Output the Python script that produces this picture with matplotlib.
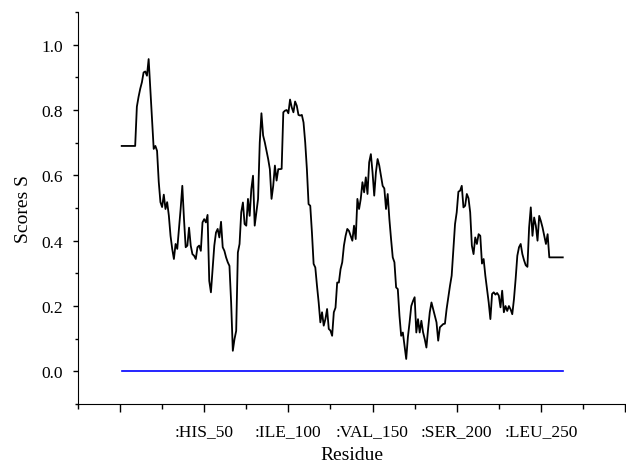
import matplotlib
matplotlib.use("Agg")
import matplotlib.pyplot as plt
import numpy as np
from matplotlib.ticker import MultipleLocator

# per-residue scores, residues 1..263
scores = [
    0.69, 0.69, 0.69, 0.69, 0.69, 0.69, 0.69, 0.69, 0.69, 0.81,
    0.84, 0.865, 0.885, 0.915, 0.918, 0.905, 0.956, 0.864, 0.772, 0.681,
    0.69, 0.675, 0.58, 0.518, 0.503, 0.541, 0.497, 0.518, 0.477, 0.415,
    0.375, 0.344, 0.39, 0.375, 0.436, 0.497, 0.568, 0.466, 0.38, 0.385,
    0.44, 0.385, 0.359, 0.354, 0.344, 0.38, 0.385, 0.369, 0.456, 0.466,
    0.456, 0.479, 0.277, 0.242, 0.313, 0.385, 0.425, 0.436, 0.41, 0.458,
    0.38, 0.369, 0.349, 0.334, 0.323, 0.211, 0.063, 0.099, 0.124, 0.364,
    0.39, 0.487, 0.517, 0.451, 0.446, 0.528, 0.476, 0.558, 0.599, 0.446,
    0.487, 0.528, 0.70, 0.79, 0.722, 0.701, 0.675, 0.65, 0.619, 0.528,
    0.568, 0.63, 0.584, 0.619, 0.619, 0.62, 0.793, 0.798, 0.80, 0.79,
    0.832, 0.808, 0.793, 0.826, 0.813, 0.785, 0.783, 0.785, 0.762, 0.701,
    0.619, 0.512, 0.507, 0.425, 0.329, 0.318, 0.262, 0.211, 0.150, 0.181,
    0.140, 0.16, 0.191, 0.13, 0.125, 0.109, 0.181, 0.195, 0.272, 0.272,
    0.313, 0.334, 0.385, 0.415, 0.436, 0.43, 0.415, 0.40, 0.446, 0.405,
    0.528, 0.497, 0.528, 0.579, 0.548, 0.594, 0.543, 0.64, 0.665, 0.609,
    0.538, 0.609, 0.65, 0.63, 0.599, 0.568, 0.56, 0.497, 0.543, 0.466,
    0.405, 0.349, 0.334, 0.257, 0.252, 0.17, 0.109, 0.119, 0.078, 0.038,
    0.105, 0.15, 0.2, 0.215, 0.227, 0.119, 0.16, 0.119, 0.155, 0.12,
    0.099, 0.073, 0.13, 0.181, 0.211, 0.191, 0.17, 0.15, 0.094, 0.135,
    0.14, 0.145, 0.146, 0.191, 0.227, 0.262, 0.293, 0.374, 0.451, 0.487,
    0.55, 0.553, 0.568, 0.502, 0.507, 0.543, 0.53, 0.487, 0.385, 0.359,
    0.41, 0.39, 0.42, 0.415, 0.33, 0.344, 0.293, 0.252, 0.211, 0.16,
    0.237, 0.242, 0.235, 0.24, 0.232, 0.196, 0.247, 0.181, 0.2, 0.185,
    0.2, 0.19, 0.175, 0.221, 0.283, 0.354, 0.38, 0.39, 0.359, 0.34,
    0.325, 0.32, 0.44, 0.502, 0.415, 0.471, 0.446, 0.40, 0.476, 0.46,
    0.44, 0.415, 0.39, 0.42, 0.349, 0.349, 0.349, 0.349, 0.349, 0.349,
    0.349, 0.349, 0.349,
]
residues = np.arange(1, len(scores) + 1)

tick_pos = [0, 50, 100, 150, 200, 250, 300]
tick_labels = ["", ":HIS_50", ":ILE_100", ":VAL_150", ":SER_200", ":LEU_250", ""]
ytick_pos = [0, 0.2, 0.4, 0.6, 0.8, 1.0]

plt.rcParams["font.family"] = ["Liberation Serif", "DejaVu Serif"]

fig = plt.figure(figsize=(6.26, 4.64), dpi=100)
ax = fig.add_axes([0.1245, 0.127, 0.874, 0.845])

ax.plot(residues, scores, color="black", lw=1.3)
ax.plot([residues[0], residues[-1]], [0, 0], color="#0000ff", lw=1.2)

ax.set_xlim(-25, 300)
ax.set_ylim(-0.1, 1.1)
ax.set_xticks(tick_pos)
ax.set_xticklabels(tick_labels)
ax.xaxis.set_minor_locator(MultipleLocator(25))
ax.set_yticks(ytick_pos)
ax.set_yticklabels([f"{v:.1f}" for v in ytick_pos])
ax.yaxis.set_minor_locator(MultipleLocator(0.1))

ax.spines["top"].set_visible(False)
ax.spines["right"].set_visible(False)
ax.tick_params(axis="x", which="major", length=5.8, width=1, labelsize=12.5, pad=8)
ax.tick_params(axis="x", which="minor", length=3.6, width=1)
ax.tick_params(axis="y", which="major", length=3.8, width=1, labelsize=12.5, pad=7)
ax.tick_params(axis="y", which="minor", length=2.5, width=1)

ax.set_xlabel("Residue", fontsize=14, labelpad=5)
ax.set_ylabel("Scores S", fontsize=14, labelpad=7)

fig.savefig("out.png", dpi=100)
